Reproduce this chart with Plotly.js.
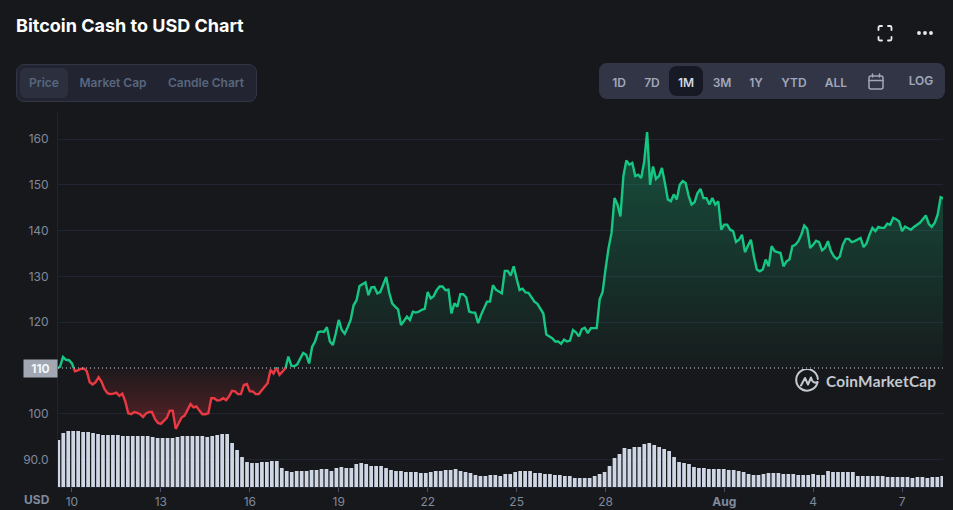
<!DOCTYPE html>
<html>
<head>
<meta charset="utf-8">
<title>Bitcoin Cash to USD Chart</title>
<script src="https://cdn.plot.ly/plotly-3.0.1.min.js"></script>
<style>
  html, body { margin: 0; padding: 0; background: #17181b; overflow: hidden; }
  body { width: 953px; height: 510px; position: relative; font-family: Inter, sans-serif; }
  #chart { position: absolute; left: 0; top: 0; width: 953px; height: 510px; }
  .ui { position: absolute; box-sizing: border-box; }
  .label { position: absolute; transform: translate(-50%, -50%); font-size: 12px; font-weight: 600; white-space: nowrap; }
  #title { left: 16px; top: 15px; font-size: 18px; font-weight: 700; color: #fff; white-space: nowrap; }
  #tabs { left: 16px; top: 64px; width: 241px; height: 38px; background: #222531; border: 1px solid #323546; border-radius: 8px; }
  #tabPill { left: 20px; top: 68px; width: 48px; height: 30px; background: #2c303e; border-radius: 6px; }
  #ranges { left: 599px; top: 63px; width: 346px; height: 36px; background: #323546; border-radius: 8px; }
  #rangePill { left: 669px; top: 66px; width: 34px; height: 30px; background: #171924; border-radius: 8px; }
  #logoText { left: 826px; top: 372px; font-family: Lato, sans-serif; font-size: 15.4px; font-weight: 700; color: #c4c8d0; letter-spacing: 0.2px; white-space: nowrap; }
</style>
</head>
<body>
<div id="chart"></div>

<div class="ui" id="title">Bitcoin Cash to USD Chart</div>
<div class="ui" id="tabs"></div>
<div class="ui" id="tabPill"></div>
<div class="ui" id="ranges"></div>
<div class="ui" id="rangePill"></div>
<div id="labels"></div>

<svg class="ui" style="left:870px;top:18px" width="70" height="30" fill="none" stroke="#e8eaee" stroke-width="1.8" stroke-linecap="round">
  <path d="M8.5 12V9.5a1.5 1.5 0 0 1 1.5-1.5H12M18 8h2a1.5 1.5 0 0 1 1.5 1.5V12M21.5 19v2a1.5 1.5 0 0 1-1.5 1.5H18M12 22.5H10A1.5 1.5 0 0 1 8.5 21v-2"/>
  <circle cx="49" cy="15" r="1" fill="#e8eaee"/><circle cx="55" cy="15" r="1" fill="#e8eaee"/><circle cx="61" cy="15" r="1" fill="#e8eaee"/>
</svg>
<svg class="ui" style="left:866px;top:72px" width="20" height="20" fill="none" stroke="#a1a7bb" stroke-width="1.5" stroke-linecap="round">
  <rect x="3" y="4" width="14" height="13" rx="2"/><path d="M3 8.5h14M6.5 2v3M13.5 2v3"/>
</svg>
<svg class="ui" style="left:795px;top:369px" width="24" height="24" fill="none" stroke="#c4c8d0" stroke-width="2" stroke-linecap="round" stroke-linejoin="round">
  <path d="M22.5 13.5A10.8 10.8 0 1 1 22.8 10"/>
  <path d="M6 16.5 10 9l3 6.5L16 8.5c1 3.5 2.5 6.5 6.5 4.5"/>
</svg>
<div class="ui" id="logoText">CoinMarketCap</div>

<script>
// price, sampled every 0.1 day from July 9.5 on, one row per day
const priceStart = 9.5;
const priceStep = 0.1;
const prices = [
  109.9, 110.3, 112.4, 111.8, 111.7,
  111.0, 109.3, 109.5, 109.8, 109.9, 109.3, 106.9, 106.4, 106.9, 108.0,
  107.0, 105.4, 104.5, 104.3, 104.4, 104.6, 103.9, 104.4, 102.7, 100.1,
  99.9, 100.4, 100.2, 99.9, 99.3, 100.1, 100.4, 100.4, 98.9, 98.0,
  97.8, 98.5, 99.1, 100.7, 100.7, 96.7, 98.0, 99.2, 99.6, 100.9,
  102.1, 101.4, 101.6, 100.7, 99.9, 99.9, 100.1, 103.4, 103.4, 102.9,
  103.0, 103.4, 103.0, 103.8, 105.0, 104.9, 104.3, 104.3, 106.3, 106.5,
  104.9, 104.9, 104.3, 104.3, 105.2, 105.9, 106.7, 109.6, 108.8, 110.1,
  108.5, 109.2, 109.9, 112.5, 110.5, 110.4, 110.8, 112.2, 113.3, 112.9,
  111.0, 114.6, 115.8, 117.8, 118.0, 117.9, 118.9, 115.8, 115.0, 117.6,
  120.5, 118.3, 117.5, 118.9, 120.5, 123.7, 124.8, 127.9, 128.4, 128.7,
  125.9, 127.6, 127.7, 126.3, 126.6, 128.1, 129.9, 126.5, 124.1, 123.4,
  122.8, 119.4, 120.4, 121.2, 120.5, 122.3, 122.1, 122.3, 122.7, 122.9,
  126.6, 125.2, 125.7, 127.0, 127.8, 127.8, 127.0, 127.1, 121.9, 124.1,
  123.4, 126.1, 126.1, 125.4, 122.3, 122.1, 122.1, 119.8, 121.6, 123.0,
  124.5, 124.5, 128.1, 127.1, 126.6, 126.3, 131.2, 131.2, 130.2, 132.2,
  129.5, 127.0, 127.3, 126.5, 126.4, 125.5, 124.5, 124.0, 123.0, 121.9,
  117.3, 116.9, 116.5, 115.8, 115.8, 115.3, 116.2, 115.8, 116.0, 118.3,
  117.8, 116.9, 118.5, 118.8, 117.6, 118.7, 118.7, 118.7, 125.0, 126.6,
  131.7, 136.2, 139.5, 147.1, 145.7, 143.1, 151.9, 155.3, 154.4, 154.8,
  151.9, 152.2, 151.5, 155.0, 161.5, 150.0, 154.0, 151.3, 151.9, 153.7,
  150.4, 146.8, 146.4, 147.9, 146.8, 150.0, 150.8, 150.4, 147.6, 145.7,
  146.2, 148.2, 149.1, 147.1, 147.1, 145.7, 147.1, 145.7, 146.4, 140.2,
  141.3, 141.3, 140.2, 139.9, 137.5, 138.0, 139.1, 135.3, 136.7, 138.0,
  134.4, 131.5, 131.1, 131.5, 133.7, 132.2, 136.6, 135.5, 135.3, 135.1,
  132.2, 133.3, 133.7, 136.6, 136.9, 137.7, 139.1, 141.1, 140.4, 136.2,
  136.9, 137.8, 137.5, 135.7, 136.2, 137.7, 135.5, 134.4, 133.8, 134.4,
  136.9, 138.2, 138.2, 137.5, 137.7, 138.0, 138.4, 136.4, 137.2, 139.1,
  140.6, 139.9, 140.8, 140.6, 140.6, 141.5, 141.3, 142.8, 142.5, 142.0,
  139.9, 140.9, 140.6, 140.2, 140.8, 141.3, 141.7, 142.5, 143.3, 141.5,
  140.8, 141.7, 143.5, 147.3, 147.0,
];

// volume bars, relative heights
const volumeStart = 9.54;
const volumeStep = 0.1675;
const volume = [
  47, 54, 56, 56, 56, 55, 55, 54, 53, 52, 52, 52, 52, 51, 51, 51, 51, 51, 51, 50,
  49, 49, 49, 49, 50, 51, 51, 51, 51, 51, 50, 51, 52, 53, 53, 44, 37, 30, 25, 24,
  24, 25, 25, 26, 26, 19, 16, 15, 16, 16, 16, 17, 17, 18, 18, 16, 19, 20, 19, 19,
  23, 24, 23, 21, 21, 21, 19, 17, 16, 16, 15, 15, 15, 14, 14, 15, 16, 16, 17, 17,
  18, 16, 15, 14, 12, 11, 11, 12, 12, 11, 13, 13, 15, 16, 16, 16, 14, 14, 13, 13,
  12, 12, 11, 11, 9, 9, 9, 9, 11, 13, 15, 21, 29, 33, 39, 38, 40, 40, 43,
  44, 42, 40, 38, 36, 30, 25, 24, 23, 20, 19, 19, 18, 18, 18, 18, 17, 17, 16, 15,
  13, 12, 12, 13, 14, 14, 14, 13, 13, 13, 12, 12, 12, 13, 12, 12, 16, 15, 15, 15,
  15, 15, 11, 11, 11, 11, 11, 11, 10, 10, 10, 10, 10, 9, 10, 10, 9, 10, 10, 11,
];

const tickDays = [10, 13, 16, 19, 22, 25, 28, 32, 35, 38];
const tickLabels = ["10", "13", "16", "19", "22", "25", "28", "<b>Aug</b>", "4", "7"];
const priceTicks = [90, 100, 120, 130, 140, 150, 160];
const priceTickLabels = ["90.0", "100", "120", "130", "140", "150", "160"];
const baseline = 110;

const tabLabels = [["Price", 44], ["Market Cap", 113], ["Candle Chart", 206]];
const rangeLabels = [["1D", 619], ["7D", 652], ["1M", 686], ["3M", 722], ["1Y", 756], ["YTD", 794], ["ALL", 836]];

const GREEN = "#16c784";
const RED = "#ea3943";
const GRID = "#222531";
const MUTED = "#808a9d";
const BG = "#17181b";
const FONT = "Inter, sans-serif";

// axis window, matched to the plot box of the picture
const xRange = [9.53, 39.38];
const yRange = [84.02, 165.68];
const pxPerUnit = 4.58;

// add the baseline crossings so the green and red parts meet exactly
function withCrossings(values) {
  const xs = [];
  const ys = [];
  values.forEach((value, i) => {
    const x = priceStart + i * priceStep;
    if (i > 0) {
      const prev = values[i - 1];
      if ((prev - baseline) * (value - baseline) < 0) {
        xs.push(x - priceStep * (value - baseline) / (value - prev));
        ys.push(baseline);
      }
    }
    xs.push(x);
    ys.push(value);
  });
  return { xs, ys };
}

const { xs, ys } = withCrossings(prices);
const flat = xs.map(() => baseline);
const noLine = { width: 0, color: "rgba(0,0,0,0)" };

const data = [
  {
    type: "bar",
    x: volume.map((_, i) => volumeStart + i * volumeStep),
    y: volume.map((v) => v / pxPerUnit),
    base: yRange[0],
    marker: { color: "#cfd6e4", line: { width: 0 } },
    hoverinfo: "skip",
  },
  { type: "scatter", mode: "lines", line: noLine, x: xs, y: flat, hoverinfo: "skip" },
  {
    type: "scatter",
    mode: "lines",
    line: noLine,
    x: xs,
    y: ys.map((v) => Math.max(v, baseline)),
    fill: "tonexty",
    fillcolor: "rgba(22,199,132,0.15)",
    fillgradient: {
      type: "vertical",
      start: 161,
      stop: baseline,
      colorscale: [[0, "rgba(22,199,132,0.32)"], [1, "rgba(22,199,132,0.02)"]],
    },
    hoverinfo: "skip",
  },
  { type: "scatter", mode: "lines", line: noLine, x: xs, y: flat, hoverinfo: "skip" },
  {
    type: "scatter",
    mode: "lines",
    line: noLine,
    x: xs,
    y: ys.map((v) => Math.min(v, baseline)),
    fill: "tonexty",
    fillcolor: "rgba(234,57,67,0.15)",
    fillgradient: {
      type: "vertical",
      start: baseline,
      stop: 97,
      colorscale: [[0, "rgba(234,57,67,0.03)"], [1, "rgba(234,57,67,0.30)"]],
    },
    hoverinfo: "skip",
  },
  {
    type: "scatter",
    mode: "lines",
    x: xs,
    y: ys.map((v) => (v >= baseline ? v : null)),
    line: { color: GREEN, width: 2.4 },
    connectgaps: false,
    hoverinfo: "skip",
  },
  {
    type: "scatter",
    mode: "lines",
    x: xs,
    y: ys.map((v) => (v <= baseline ? v : null)),
    line: { color: RED, width: 2.4 },
    connectgaps: false,
    hoverinfo: "skip",
  },
];

const layout = {
  width: 953,
  height: 510,
  margin: { l: 58, r: 10, t: 113, b: 23 },
  paper_bgcolor: BG,
  plot_bgcolor: BG,
  showlegend: false,
  bargap: 0.25,
  font: { family: FONT, color: MUTED, size: 12 },
  xaxis: {
    type: "linear",
    range: xRange,
    tickmode: "array",
    tickvals: tickDays,
    ticktext: tickLabels,
    ticks: "outside",
    ticklen: 4,
    tickcolor: "#4a5063",
    tickfont: { color: MUTED, size: 12 },
    showgrid: false,
    zeroline: false,
    showline: true,
    linecolor: GRID,
  },
  yaxis: {
    type: "linear",
    range: yRange,
    tickmode: "array",
    tickvals: priceTicks,
    ticktext: priceTickLabels,
    ticks: "outside",
    ticklen: 6,
    tickcolor: "rgba(0,0,0,0)",
    tickfont: { color: MUTED, size: 12 },
    gridcolor: GRID,
    gridwidth: 1,
    zeroline: false,
    showline: true,
    linecolor: GRID,
  },
  shapes: [
    {
      type: "line",
      xref: "paper",
      x0: 0,
      x1: 1,
      yref: "y",
      y0: baseline,
      y1: baseline,
      line: { color: "#cfd6e4", width: 1, dash: "1px,3px" },
    },
  ],
  annotations: [
    {
      xref: "paper",
      yref: "y",
      x: 0,
      y: baseline,
      xanchor: "right",
      text: "<b>110</b>",
      showarrow: false,
      width: 33,
      height: 17,
      borderpad: 0,
      bgcolor: "#a1a7b3",
      font: { family: FONT, color: "#f4f5f7", size: 12 },
    },
    {
      xref: "paper",
      yref: "paper",
      x: 0,
      xshift: -6,
      y: 0,
      yshift: -12,
      xanchor: "right",
      yanchor: "middle",
      text: "<b>USD</b>",
      showarrow: false,
      font: { family: FONT, color: MUTED, size: 12 },
    },
  ],
};

// header buttons
const labelBox = document.getElementById("labels");
function addLabel(text, x, y, color) {
  const el = document.createElement("div");
  el.className = "label";
  el.textContent = text;
  el.style.left = x + "px";
  el.style.top = y + "px";
  el.style.color = color;
  labelBox.appendChild(el);
}
tabLabels.forEach(([text, x]) => addLabel(text, x, 82, "#58667e"));
rangeLabels.forEach(([text, x]) => addLabel(text, x, 81.5, text === "1M" ? "#cfd6e4" : "#a1a7bb"));
addLabel("LOG", 921, 80, "#a1a7bb");

Plotly.newPlot("chart", data, layout, { displayModeBar: false, staticPlot: true });
</script>
</body>
</html>
